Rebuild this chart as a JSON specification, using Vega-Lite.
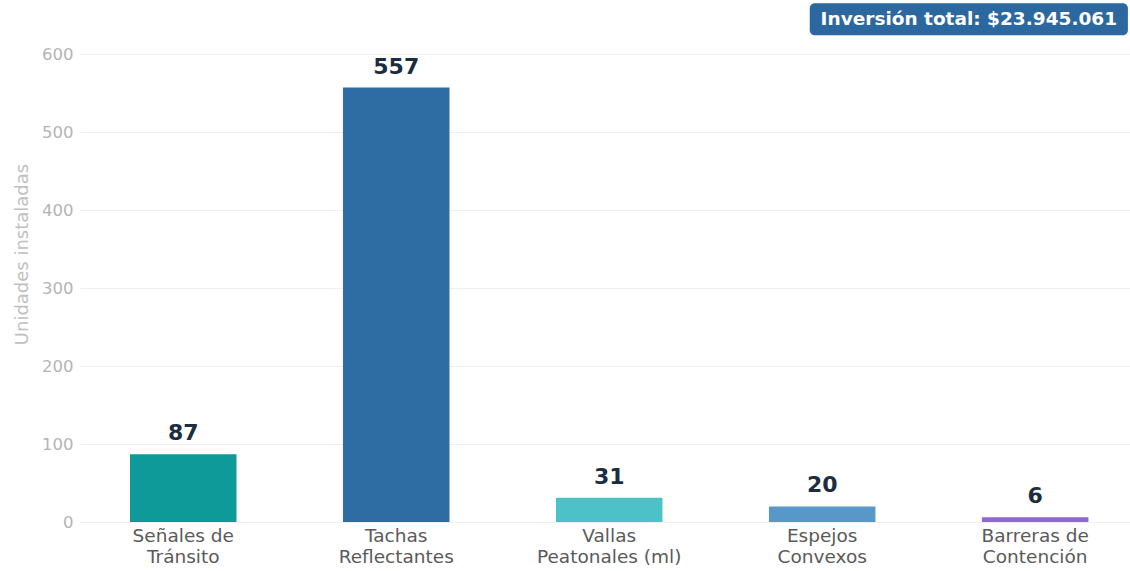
{
  "$schema": "https://vega.github.io/schema/vega-lite/v6.json",
  "width": 1050,
  "height": 468,
  "autosize": "none",
  "padding": {"left": 80, "top": 54, "right": 0, "bottom": 49},
  "background": "white",
  "config": {
    "font": "DejaVu Sans",
    "view": {"stroke": null}
  },
  "datasets": {
    "bars": [
      {"cat": "Señales de Tránsito", "value": 87, "color": "#0f9a9a"},
      {"cat": "Tachas Reflectantes", "value": 557, "color": "#2e6da3"},
      {"cat": "Vallas Peatonales (ml)", "value": 31, "color": "#4cc2c8"},
      {"cat": "Espejos Convexos", "value": 20, "color": "#5898c8"},
      {"cat": "Barreras de Contención", "value": 6, "color": "#9168d0"}
    ],
    "badge": [
      {"text": "Inversión total: $23.945.061"}
    ]
  },
  "layer": [
    {
      "data": {"name": "bars"},
      "encoding": {
        "x": {
          "field": "cat", "type": "nominal", "sort": null,
          "scale": {"paddingInner": 0.5, "paddingOuter": 0.215, "align": 0.546},
          "axis": {
            "title": null, "labelAngle": 0, "domain": false, "ticks": false,
            "labelColor": "#5a5a5a", "labelFontSize": 18.5, "labelPadding": 4,
            "labelLineHeight": 21,
            "labelExpr": "split(replace(datum.label, regexp(' (?!de )'), '|'), '|')"
          }
        },
        "y": {
          "field": "value", "type": "quantitative",
          "scale": {"domain": [0, 600], "nice": false},
          "axis": {
            "title": "Unidades instaladas", "titleColor": "#c0c0c0", "titleFontSize": 18,
            "titleFontWeight": "normal", "titleAngle": -90, "titleX": -58, "titleY": 200,
            "titleAlign": "center", "titleBaseline": "middle",
            "values": [0, 100, 200, 300, 400, 500, 600],
            "domain": false, "ticks": false, "labelColor": "#b4b4b4", "labelFontSize": 16.5,
            "labelPadding": 7, "gridColor": "#efefef", "gridWidth": 1
          }
        }
      },
      "layer": [
        {
          "mark": {"type": "bar"},
          "encoding": {
            "color": {"field": "color", "type": "nominal", "scale": null}
          }
        },
        {
          "mark": {"type": "text", "baseline": "bottom", "dy": -9, "fontSize": 22, "fontWeight": "bold", "color": "#1b2d40"},
          "encoding": {
            "text": {"field": "value", "type": "quantitative"}
          }
        }
      ]
    },
    {
      "data": {"name": "badge"},
      "layer": [
        {
          "mark": {"type": "rect", "color": "#2c68a0", "cornerRadius": 5, "clip": false},
          "encoding": {
            "x": {"datum": 0.695, "type": "quantitative", "scale": {"domain": [0, 1], "nice": false}, "axis": null},
            "x2": {"datum": 0.998},
            "y": {"datum": 624, "type": "quantitative"},
            "y2": {"datum": 665}
          }
        },
        {
          "mark": {"type": "text", "color": "white", "fontSize": 18.5, "fontWeight": "bold", "align": "center", "baseline": "middle", "clip": false},
          "encoding": {
            "x": {"datum": 0.8465, "type": "quantitative", "scale": {"domain": [0, 1], "nice": false}, "axis": null},
            "y": {"datum": 645, "type": "quantitative"},
            "text": {"field": "text"}
          }
        }
      ]
    }
  ],
  "resolve": {"scale": {"x": "independent"}}
}
